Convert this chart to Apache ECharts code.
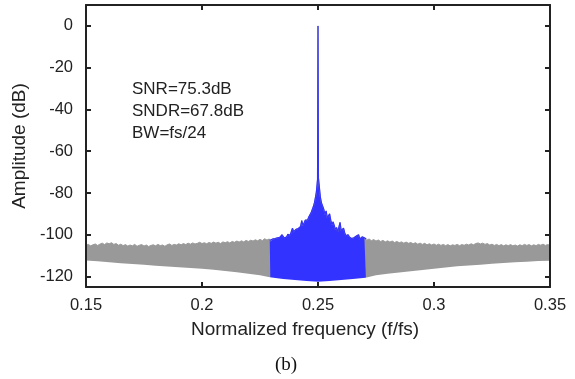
<!DOCTYPE html>
<html>
<head>
<meta charset="utf-8">
<script src="https://cdn.jsdelivr.net/npm/echarts@6/dist/echarts.min.js"></script>
<style>
html,body{margin:0;padding:0;background:#fff;}
#chart{width:575px;height:379px;}
</style>
</head>
<body>
<div id="chart"></div>
<script>
// ---- data ----
var xTicks = [0.15, 0.2, 0.25, 0.3, 0.35];
var yTicks = [-120, -100, -80, -60, -40, -20, 0];

// out-of-band spectrum, upper edge (gray), left of band
var grayLeft = [
[0.150,-105.0],[0.151,-104.6],[0.152,-105.3],[0.153,-104.8],[0.154,-104.4],[0.155,-105.1],[0.156,-104.5],[0.157,-104.0],[0.158,-104.7],[0.159,-103.9],
[0.160,-104.3],[0.161,-103.8],[0.162,-104.6],[0.163,-104.2],[0.164,-105.0],[0.165,-104.5],[0.166,-105.2],[0.167,-104.7],[0.168,-105.4],[0.169,-104.9],
[0.170,-105.3],[0.171,-104.6],[0.172,-105.5],[0.173,-105.0],[0.174,-104.7],[0.175,-105.4],[0.176,-104.9],[0.177,-105.6],[0.178,-105.1],[0.179,-104.8],
[0.180,-105.3],[0.181,-104.6],[0.182,-105.2],[0.183,-104.9],[0.184,-105.5],[0.185,-104.8],[0.186,-104.4],[0.187,-105.1],[0.188,-104.6],[0.189,-104.9],
[0.190,-104.3],[0.191,-104.8],[0.192,-104.2],[0.193,-104.7],[0.194,-104.0],[0.195,-104.5],[0.196,-103.9],[0.197,-104.4],[0.198,-104.1],[0.199,-103.6],
[0.200,-104.2],[0.201,-103.8],[0.202,-104.3],[0.203,-103.7],[0.204,-104.1],[0.205,-103.5],[0.206,-104.0],[0.207,-103.6],[0.208,-104.2],[0.209,-103.4],
[0.210,-103.8],[0.211,-103.3],[0.212,-103.9],[0.213,-103.2],[0.214,-103.6],[0.215,-103.0],[0.216,-103.5],[0.217,-102.9],[0.218,-103.4],[0.219,-102.7],
[0.220,-103.2],[0.221,-102.6],[0.222,-103.0],[0.223,-102.4],[0.224,-102.9],[0.225,-102.2],[0.226,-102.8],[0.227,-101.9],[0.228,-102.5],[0.229,-102.0]
];

// out-of-band spectrum, upper edge (gray), right of band
var grayRight = [
[0.271,-102.6],[0.272,-102.0],[0.273,-102.8],[0.274,-102.3],[0.275,-103.0],[0.276,-102.5],[0.277,-103.2],[0.278,-102.7],[0.279,-103.4],
[0.280,-102.9],[0.281,-103.5],[0.282,-103.0],[0.283,-103.7],[0.284,-103.2],[0.285,-103.8],[0.286,-103.4],[0.287,-104.0],[0.288,-103.5],[0.289,-104.1],
[0.290,-103.7],[0.291,-104.3],[0.292,-103.8],[0.293,-104.5],[0.294,-104.0],[0.295,-104.6],[0.296,-104.1],[0.297,-104.8],[0.298,-104.3],[0.299,-104.9],
[0.300,-104.4],[0.301,-105.0],[0.302,-104.5],[0.303,-105.1],[0.304,-104.6],[0.305,-105.2],[0.306,-104.7],[0.307,-105.3],[0.308,-104.8],[0.309,-105.1],
[0.310,-104.6],[0.311,-105.2],[0.312,-104.7],[0.313,-105.0],[0.314,-104.5],[0.315,-104.9],[0.316,-104.3],[0.317,-104.8],[0.318,-104.2],[0.319,-103.9],
[0.320,-104.4],[0.321,-104.0],[0.322,-104.6],[0.323,-104.2],[0.324,-104.9],[0.325,-104.5],[0.326,-105.1],[0.327,-104.6],[0.328,-105.2],[0.329,-104.7],
[0.330,-105.3],[0.331,-104.8],[0.332,-105.2],[0.333,-104.7],[0.334,-105.3],[0.335,-104.9],[0.336,-105.4],[0.337,-104.8],[0.338,-105.2],[0.339,-104.6],
[0.340,-105.1],[0.341,-104.7],[0.342,-105.3],[0.343,-104.8],[0.344,-105.2],[0.345,-104.6],[0.346,-105.0],[0.347,-104.5],[0.348,-105.1],[0.349,-104.7],
[0.350,-105.0]
];

// in-band spectrum, upper edge (blue), BW = fs/24 around fs/4
var blueBand = [
[0.2292,-102.6],[0.2295,-103.0],[0.2300,-102.3],[0.2305,-102.0],[0.2310,-102.8],[0.2315,-101.8],[0.2320,-102.2],[0.2325,-101.5],[0.2330,-102.0],[0.2335,-101.2],
[0.2340,-101.7],[0.2345,-100.0],[0.2350,-100.8],[0.2355,-101.6],[0.2360,-100.9],[0.2365,-101.0],[0.2370,-99.8],[0.2375,-99.0],[0.2380,-100.2],[0.2385,-99.5],
[0.2390,-96.8],[0.2395,-98.5],[0.2400,-97.8],[0.2405,-97.4],[0.2410,-98.2],[0.2415,-97.0],[0.2420,-96.6],[0.2425,-96.0],[0.2430,-93.2],[0.2435,-95.5],
[0.2440,-94.4],[0.2445,-93.0],[0.2450,-92.2],[0.2455,-93.0],[0.2460,-91.5],[0.2465,-91.8],[0.2470,-89.5],[0.2475,-88.0],[0.2480,-86.5],[0.2485,-84.5],
[0.2490,-81.5],[0.2493,-79.5],[0.2496,-76.0],[0.2498,-73.5],[0.2500,0.0],[0.2502,-73.0],[0.2504,-75.0],[0.2507,-78.5],[0.2510,-81.8],[0.2515,-84.8],
[0.2520,-85.5],[0.2525,-87.8],[0.2530,-90.2],[0.2535,-88.6],[0.2540,-91.8],[0.2545,-91.0],[0.2550,-90.0],[0.2555,-93.0],[0.2560,-95.2],[0.2565,-93.8],
[0.2570,-95.5],[0.2575,-97.5],[0.2580,-96.5],[0.2585,-98.6],[0.2590,-99.2],[0.2595,-94.1],[0.2600,-98.0],[0.2605,-97.8],[0.2610,-96.8],[0.2615,-99.0],
[0.2620,-100.4],[0.2625,-101.1],[0.2630,-100.0],[0.2635,-101.0],[0.2640,-101.1],[0.2645,-101.8],[0.2650,-101.2],[0.2655,-101.4],[0.2660,-101.8],[0.2665,-100.6],
[0.2670,-101.0],[0.2675,-100.0],[0.2680,-102.0],[0.2685,-101.6],[0.2690,-101.0],[0.2695,-101.8],[0.2700,-101.4],[0.2705,-102.2],[0.2708,-102.0]
];

// lower edge of the whole spectrum
var lowerEdge = [
[0.150,-112.3],[0.155,-112.7],[0.160,-113.2],[0.165,-113.6],[0.170,-114.0],[0.175,-114.4],[0.180,-114.8],[0.185,-115.2],[0.190,-115.6],[0.195,-115.9],
[0.200,-116.3],[0.205,-116.8],[0.210,-117.3],[0.215,-117.9],[0.220,-118.6],[0.225,-119.4],[0.2292,-120.3],[0.2295,-120.6],[0.235,-121.2],[0.240,-121.7],
[0.245,-122.1],[0.250,-122.5],[0.255,-122.1],[0.260,-121.7],[0.265,-121.2],[0.2705,-120.6],[0.2708,-120.2],[0.275,-119.4],[0.280,-118.6],[0.285,-118.0],
[0.290,-117.5],[0.295,-116.9],[0.300,-116.3],[0.305,-115.7],[0.310,-115.1],[0.315,-114.7],[0.320,-114.3],[0.325,-113.9],[0.330,-113.5],[0.335,-113.2],
[0.340,-112.9],[0.345,-112.6],[0.350,-112.4]
];

var annotation = ['SNR=75.3dB', 'SNDR=67.8dB', 'BW=fs/24'];
var xTitle = 'Normalized frequency (f/fs)';
var yTitle = 'Amplitude (dB)';
var caption = '(b)';

// ---- chart ----
var FONT = '"Liberation Sans", Arial, Helvetica, sans-serif';
var AX = '#222';
var GRAY = '#999999';
var BLUE = '#3333ff';

function xAx(pos, show) {
  return {
    type: 'value', position: pos, min: 0.15, max: 0.35, interval: 0.05, z: 5,
    name: show ? xTitle : '', nameLocation: 'middle', nameGap: 33,
    nameTextStyle: {fontFamily: FONT, fontSize: 19, color: AX, padding: [0, 26, 0, 0]},
    axisLine: {show: true, onZero: false, lineStyle: {color: AX, width: 2}},
    axisTick: {show: true, inside: true, length: 5, customValues: xTicks, lineStyle: {color: AX, width: 2}},
    axisLabel: {show: show, margin: 10, fontFamily: FONT, fontSize: 16.5, color: AX, customValues: xTicks,
      formatter: function (v) { return String(+(+v).toFixed(2)); }},
    splitLine: {show: false}
  };
}
function yAx(pos, show) {
  return {
    type: 'value', position: pos, min: -125, max: 10, z: 5,
    name: show ? yTitle : '', nameLocation: 'middle', nameGap: 52,
    nameTextStyle: {fontFamily: FONT, fontSize: 19, color: AX},
    axisLine: {show: true, onZero: false, lineStyle: {color: AX, width: 2}},
    axisTick: {show: true, inside: true, length: 5, customValues: yTicks, lineStyle: {color: AX, width: 2}},
    axisLabel: {show: show, margin: 13, fontFamily: FONT, fontSize: 16.5, color: AX, customValues: yTicks},
    splitLine: {show: false}
  };
}
function band(data, color, z, width) {
  return {
    type: 'line', data: data, xAxisIndex: 0, yAxisIndex: 0, z: z,
    symbol: 'none', showSymbol: false, smooth: false, silent: true,
    lineStyle: {color: color, width: width},
    areaStyle: {color: color, opacity: 1, origin: 'start'}
  };
}

// gray spectrum drawn across the whole axis (blue in-band part is painted over it)
var graySpectrum = grayLeft.concat(blueBand, grayRight);

var chart = echarts.init(document.getElementById('chart'), null, {renderer: 'canvas'});
chart.setOption({
  animation: false,
  backgroundColor: '#fff',
  grid: {left: 86, right: 25, top: 5, bottom: 92, containLabel: false},
  xAxis: [xAx('bottom', true), xAx('top', false)],
  yAxis: [yAx('left', true), yAx('right', false)],
  series: [
    band(graySpectrum, GRAY, 2, 1),
    band(blueBand, BLUE, 2, 1.2),
    {
      type: 'line', data: lowerEdge, xAxisIndex: 0, yAxisIndex: 0, z: 3,
      symbol: 'none', showSymbol: false, silent: true,
      lineStyle: {width: 0, opacity: 0},
      areaStyle: {color: '#ffffff', opacity: 1, origin: 'start'}
    }
  ],
  graphic: [
    {type: 'text', left: 132, top: 78, z: 10,
      style: {text: annotation.join('\n'), font: '17px ' + FONT, fill: AX, lineHeight: 22}},
    {type: 'text', x: 286, y: 365, z: 10,
      style: {text: caption, font: '19px "Liberation Serif", "Times New Roman", serif', fill: '#111',
        align: 'center', verticalAlign: 'middle'}}
  ]
});
</script>
</body>
</html>
